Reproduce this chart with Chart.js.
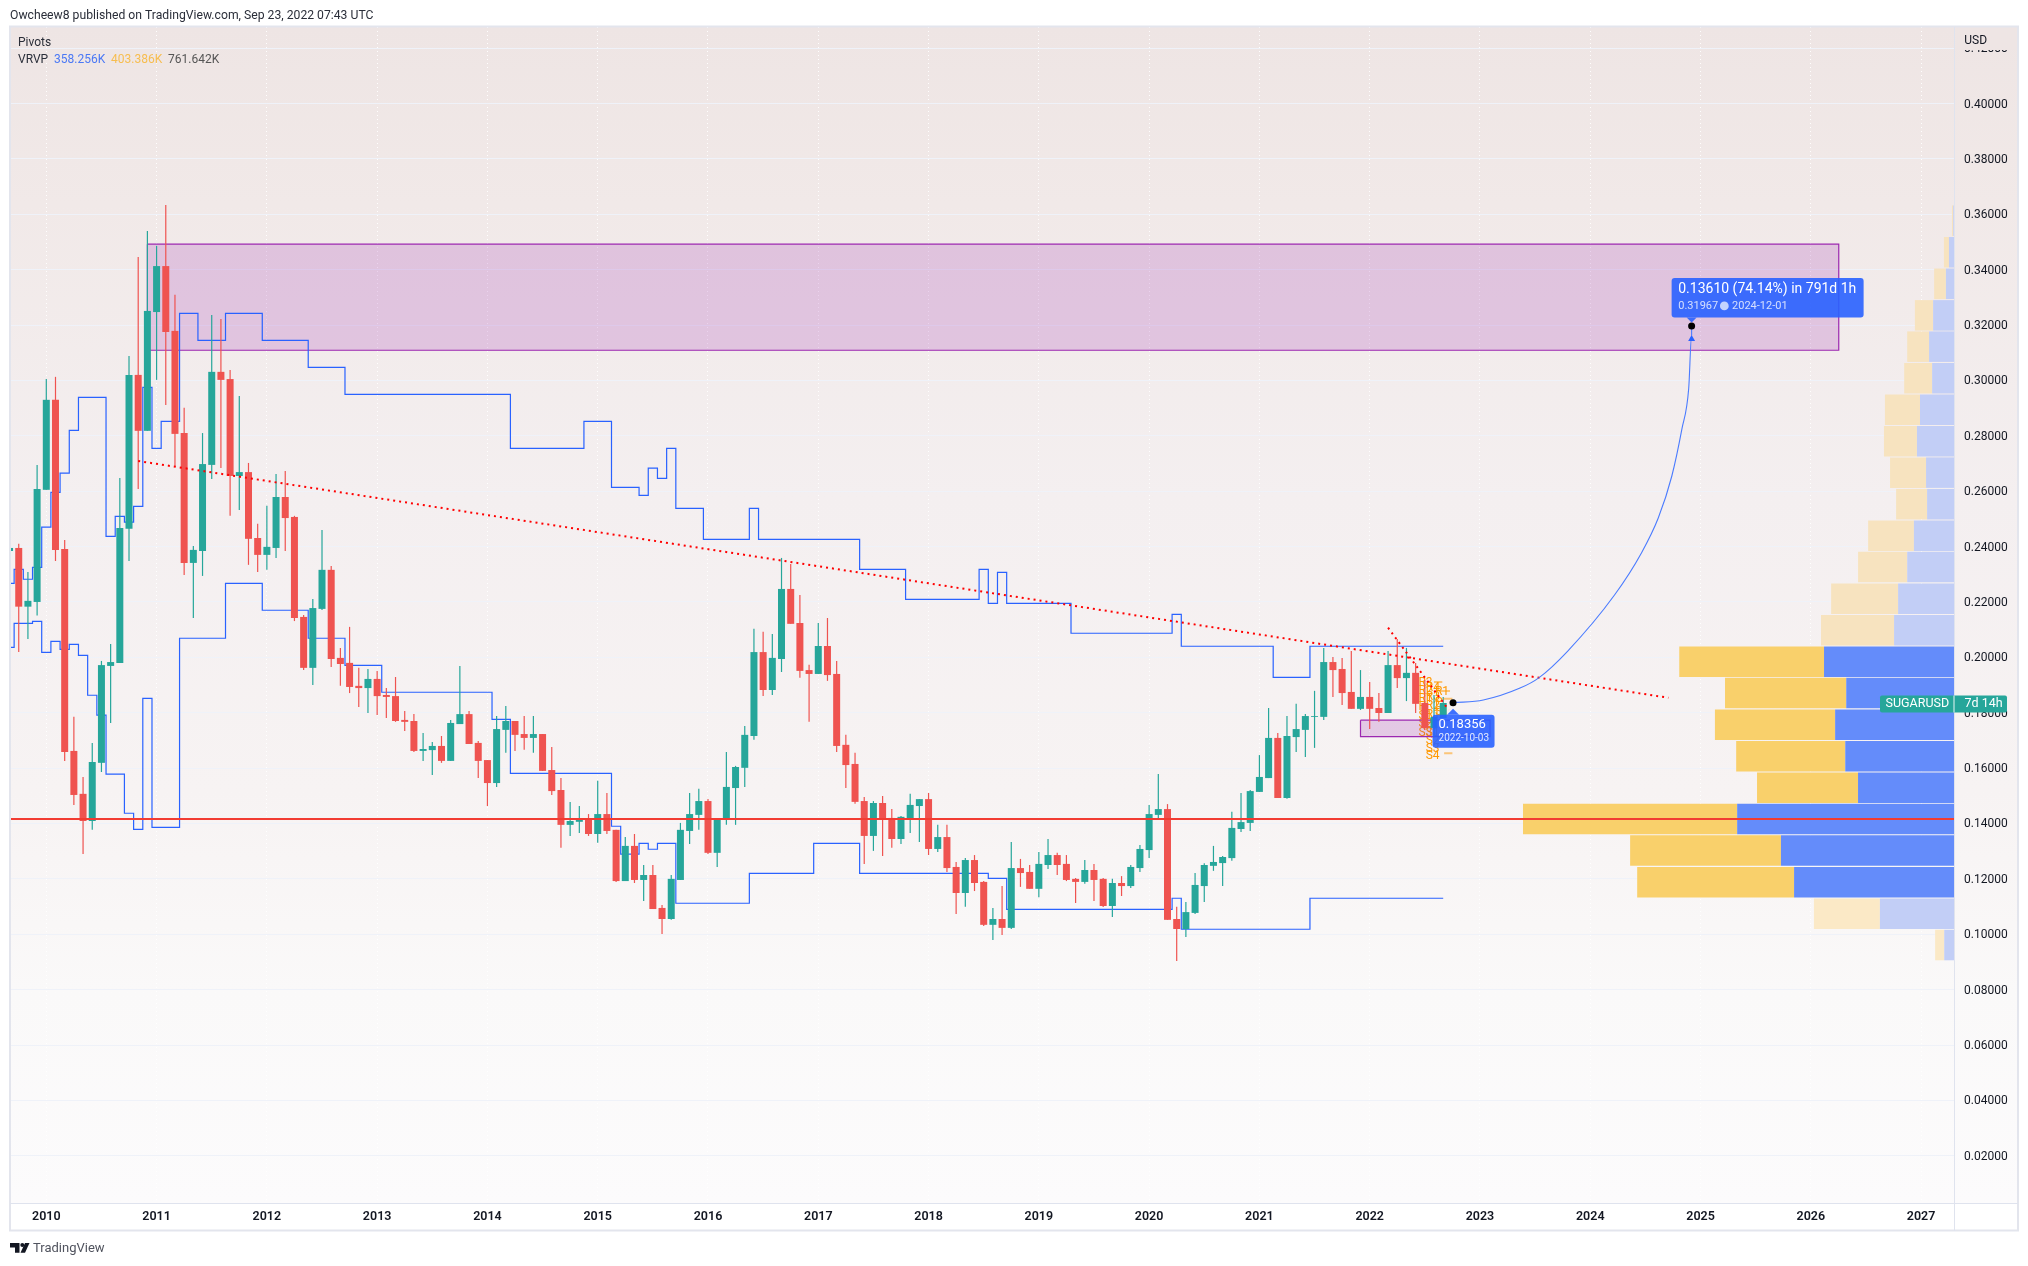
<!DOCTYPE html>
<html><head><meta charset="utf-8"><title>SUGARUSD</title>
<style>html,body{margin:0;padding:0;background:#fff}canvas{display:block}</style>
<script src="https://cdn.jsdelivr.net/npm/chart.js@4"></script></head>
<body><canvas id="c" width="2028" height="1266"></canvas>
<script>
// monthly candles, index 0 = Sep 2009
const opens=[.2384,.2395,.2183,.2200,.2605,.2930,.2391,.1662,.1507,.1409,
.1619,.1969,.1980,.2464,.3020,.2818,.3247,.3413,.3179,.2810,
.2341,.2384,.2695,.3031,.3005,.2655,.2669,.2431,.2370,.2395,
.2579,.2507,.2146,.1962,.2175,.2316,.1998,.1980,.1897,.1889,
.1922,.1864,.1860,.1774,.1770,.1662,.1665,.1680,.1626,.1759,
.1795,.1691,.1629,.1546,.1738,.1770,.1723,.1709,.1723,.1593,
.1521,.1395,.1406,.1416,.1362,.1434,.1377,.1192,.1319,.1196,
.1214,.1095,.1055,.1196,.1373,.1431,.1481,.1294,.1413,.1528,
.1601,.1716,.2019,.1882,.1994,.2247,.2124,.1954,.1940,.2041,
.1940,.1684,.1615,.1481,.1355,.1474,.1420,.1344,.1416,.1463,
.1488,.1308,.1351,.1243,.1149,.1268,.1189,.1034,.1055,.1023,
.1239,.1225,.1164,.1250,.1286,.1254,.1200,.1189,.1232,.1200,
.1102,.1185,.1174,.1239,.1304,.1431,.1452,.1055,.1019,.1077,
.1174,.1247,.1257,.1275,.1380,.1402,.1514,.1564,.1709,.1492,
.1712,.1738,.1785,.1785,.1983,.1958,.1875,.1814,.1857,.1817,
.1799,.1972,.1925,.1944,.1835,.1745,.1781];
const highs=[.2400,.2410,.2308,.2695,.3005,.3013,.2424,.1785,.1568,.1691,
.1987,.2048,.2648,.3088,.3446,.3540,.3486,.3634,.3309,.2901,
.2402,.2810,.3236,.3222,.3038,.2944,.2702,.2482,.2547,.2662,
.2673,.2511,.2153,.2211,.2460,.2330,.2034,.2110,.1962,.1958,
.1951,.1889,.1929,.1806,.1795,.1727,.1694,.1716,.1774,.1969,
.1806,.1698,.1629,.1788,.1824,.1770,.1788,.1788,.1723,.1676,
.1564,.1478,.1463,.1434,.1554,.1510,.1377,.1351,.1362,.1250,
.1250,.1106,.1214,.1402,.1510,.1525,.1488,.1416,.1658,.1608,
.1752,.2103,.2092,.2084,.2359,.2337,.2225,.1973,.2124,.2142,
.1987,.1720,.1655,.1496,.1481,.1499,.1452,.1427,.1507,.1488,
.1510,.1395,.1395,.1261,.1275,.1286,.1192,.1095,.1174,.1333,
.1272,.1250,.1297,.1344,.1294,.1286,.1203,.1268,.1254,.1203,
.1200,.1210,.1250,.1322,.1467,.1579,.1470,.1099,.1116,.1221,
.1256,.1319,.1283,.1442,.1510,.1521,.1647,.1817,.1727,.1788,
.1832,.1795,.1879,.2034,.2001,.1998,.2023,.1954,.1911,.1871,
.2023,.2066,.2034,.1980,.1918,.1864,.1857];
const lows=[.2378,.2019,.2066,.2151,.2605,.2348,.1626,.1467,.1290,.1377,
.1586,.1763,.1980,.2348,.2608,.2818,.3002,.2911,.2688,.2297,
.2142,.2294,.2644,.2684,.2511,.2532,.2334,.2308,.2316,.2359,
.2384,.2131,.1954,.1900,.2171,.1965,.1897,.1871,.1821,.1799,
.1792,.1781,.1767,.1734,.1658,.1626,.1575,.1619,.1626,.1759,
.1687,.1564,.1463,.1532,.1655,.1662,.1666,.1655,.1590,.1503,
.1312,.1355,.1366,.1355,.1330,.1362,.1189,.1192,.1185,.1120,
.1091,.1001,.1052,.1196,.1326,.1377,.1290,.1243,.1395,.1395,
.1532,.1702,.1860,.1864,.1947,.2121,.1926,.1767,.1940,.1915,
.1658,.1528,.1471,.1254,.1301,.1283,.1312,.1326,.1366,.1333,
.1286,.1297,.1225,.1073,.1099,.1156,.1030,.0979,.0997,.1019,
.1171,.1164,.1134,.1236,.1214,.1192,.1113,.1182,.1120,.1098,
.1062,.1138,.1167,.1225,.1275,.1420,.1052,.0903,.0990,.1073,
.1116,.1229,.1174,.1265,.1369,.1373,.1514,.1564,.1492,.1489,
.1658,.1640,.1673,.1774,.1857,.1828,.1814,.1810,.1741,.1767,
.1799,.1889,.1842,.1799,.1738,.1712,.1781];
const closes=[.2395,.2183,.2204,.2608,.2930,.2388,.1658,.1503,.1409,.1622,
.1972,.1983,.2467,.3020,.2818,.3251,.3413,.3175,.2807,.2341,
.2388,.2698,.3031,.3002,.2655,.2669,.2428,.2370,.2399,.2579,
.2503,.2142,.1962,.2178,.2316,.1994,.1976,.1893,.1889,.1922,
.1860,.1857,.1770,.1767,.1662,.1669,.1680,.1626,.1763,.1795,
.1687,.1626,.1546,.1741,.1770,.1720,.1709,.1723,.1590,.1517,
.1395,.1409,.1413,.1362,.1434,.1373,.1192,.1319,.1196,.1214,
.1091,.1055,.1200,.1377,.1434,.1481,.1294,.1416,.1532,.1604,
.1720,.2019,.1882,.1998,.2247,.2121,.1951,.1940,.2041,.1936,
.1680,.1611,.1478,.1355,.1474,.1416,.1344,.1424,.1467,.1488,
.1308,.1351,.1239,.1149,.1268,.1185,.1034,.1055,.1023,.1239,
.1221,.1164,.1254,.1286,.1250,.1196,.1189,.1232,.1196,.1102,
.1185,.1174,.1243,.1308,.1434,.1452,.1052,.1019,.1080,.1178,
.1250,.1261,.1279,.1384,.1405,.1517,.1568,.1709,.1492,.1716,
.1741,.1788,.1788,.1983,.1954,.1871,.1814,.1857,.1814,.1799,
.1972,.1925,.1944,.1832,.1745,.1785,.1835];
const yearLabels=[2010,2011,2012,2013,2014,2015,2016,2017,2018,2019,2020,2021,2022,2023,2024,2025,2026,2027];
const yearCandleIndex=[4,16,28,40,52,64,76,88,100,112,124,136,148,160,172,184,196,208];
const priceTicks=[.02,.04,.06,.08,.10,.12,.14,.16,.18,.20,.22,.24,.26,.28,.30,.32,.34,.36,.38,.40,.42];
// pivot step lines
const upperX=[-.5,.5,1.5,2.5,3.5,4.5,5.5,6.5,7.5,10.5,11.5,12.5,13.5,14.5,15.5,16.5,18.5,20.5,23.5,27.5,32.5,36.5,54.5,62.5,65.5,68.5,69.5,70.5,71.5,72.5,75.5,80.5,81.5,92.5,97.5,105.5,106.5,107.5,108.5,115.5,126.5,127.5,137.5,141.5,156];
const upperY=[.2267,.2318,.2282,.2325,.2470,.2596,.2665,.2820,.2939,.2437,.2509,.2488,.2545,.2975,.2755,.2852,.3242,.3145,.3242,.3145,.3047,.2950,.2755,.2852,.2614,.2585,.2683,.2646,.2755,.2538,.2426,.2538,.2426,.2318,.2209,.2318,.2195,.2307,.2195,.2087,.2155,.2040,.1928,.2040,.2040];
const lowerX=[-.5,.5,2.5,3.5,4.5,5.5,6.5,7.5,8.5,9.5,10.5,12.5,13.5,14.5,15.5,18.5,23.5,27.5,32.5,36.5,40.5,52.5,54.5,65.5,66.5,68.5,69.5,70.5,72.5,80.5,87.5,92.5,106.5,108.5,126.5,127.5,141.5,156];
const lowerY=[.2036,.2123,.2130,.2018,.2058,.2029,.2047,.2007,.1863,.1791,.1578,.1437,.1379,.1852,.1386,.2069,.2267,.2170,.2069,.1971,.1874,.1776,.1581,.1390,.1289,.1328,.1307,.1328,.1112,.1220,.1328,.1220,.1202,.1090,.1130,.1018,.1130,.1130];
// drawings
const trendX=[14,180.5], trendY=[.2709,.1854];
const shortTrendX=[150,156.6], shortTrendY=[.2107,.1810];
const hLineX=[.05,211.58], hLineY=[.1416,.1416];
const bigZoneX=[15,199.04], bigZoneY=[.3492,.3109];
const smallZoneX=[147,161.1], smallZoneY=[.1773,.1714];
const curveX=[157.07,160.37,164.36,166.4,169.5,174.64,177.57,179.4,180.87,181.97,182.71,183.03,183.03];
const curveY=[.1836,.1846,.1889,.1926,.2021,.2225,.2377,.2503,.2654,.2824,.2970,.3164,.3190];
const endX=[157.07,183.03], endY=[.18356,.31967];
// volume profile (thousands)
const vpPrice=[.3577,.3463,.3349,.3235,.3122,.3008,.2894,.2780,.2667,.2553,.2439,.2326,.2212,.2098,.1984,.1871,.1757,.1643,.1529,.1416,.1302,.1188,.1074,.0961];
const vpBlue=[.16,1.18,1.89,4.89,5.83,5.12,7.96,8.67,6.54,6.30,9.38,10.95,13.08,14.03,30.42,25.22,27.82,25.45,22.46,50.75,40.50,37.43,17.34,2.29];
const vpYellow=[.32,1.18,2.76,4.26,5.12,6.54,8.20,7.72,8.43,7.25,10.72,11.50,15.68,17.10,33.88,28.37,28.13,25.53,23.64,50.12,35.30,36.72,15.44,2.13];
const vpStrong=[0,0,0,0,0,0,0,0,0,0,0,0,0,0,1,1,1,1,1,1,1,1,0,0];
// pivot level labels
const pivotText=['R3','R2','R1','P','S1','S2','S3','R4','R3','R2','R1','P','S1','S2','S3','S4','R1','P','S1'];
const pivotIdx=[153.3,153.3,153.3,153.3,153.3,153.3,153.3,154.1,154.1,154.1,154.1,154.1,154.1,154.1,154.1,154.1,155.1,155.1,155.1];
const pivotPrice=[.1907,.1878,.1850,.1821,.1788,.1759,.1727,.1889,.1857,.1824,.1792,.1759,.1727,.1698,.1669,.1644,.1875,.1835,.1803];
const pivotDashX=[155,155.9,NaN,155.65,156.74,NaN,156,157,NaN,156.1,157];
const pivotDashY=[.1911,.1911,NaN,.1878,.1878,NaN,.1850,.1850,NaN,.1654,.1654];

const UP='#26a69a',DOWN='#ef5350',BLUE='#2962ff';
const F='Roboto';
const pts=(xs,ys)=>xs.map((x,i)=>({x,y:ys[i]}));
const cols=opens.map((o,i)=>closes[i]>=o?UP:DOWN);
const rectPts=(xs,ys)=>pts([xs[0],xs[1],xs[1],xs[0],xs[0]],[ys[0],ys[0],ys[1],ys[1],ys[0]]);
const lineBase={type:'line',pointRadius:0,borderJoinStyle:'miter',tension:0,fill:false};

function T(ctx,s,x,y,font,color,align){ctx.font=font;ctx.fillStyle=color;ctx.textAlign=align||'left';ctx.textBaseline='middle';ctx.fillText(s,x,y);}
function rr(ctx,x,y,w,h,r){ctx.beginPath();ctx.roundRect(x,y,w,h,r);}

const deco={id:'deco',
 beforeDraw(ch){const {ctx,chartArea:a}=ch;
  const g=ctx.createLinearGradient(0,a.top,0,a.bottom);
  g.addColorStop(0,'#eee5e4');g.addColorStop(.15,'#f1e9e8');g.addColorStop(.4,'#f4eff0');g.addColorStop(.65,'#f7f3f3');g.addColorStop(.82,'#faf9f9');g.addColorStop(1,'#fcfbfc');
  ctx.fillStyle=g;ctx.fillRect(a.left,a.top,2018-a.left,a.bottom-a.top);},
 beforeDatasetsDraw(ch){const {ctx,chartArea:a,scales:{x,y}}=ch;
  ctx.save();ctx.beginPath();ctx.rect(a.left,a.top,a.right-a.left,a.bottom-a.top);ctx.clip();
  pivotText.forEach((s,i)=>T(ctx,s,x.getPixelForValue(pivotIdx[i]),y.getPixelForValue(pivotPrice[i]),'12px '+F,'#ff9800'));
  ctx.restore();},
 afterDatasetsDraw(ch){const {ctx,scales:{x,y}}=ch;
  const bx=x.getPixelForValue(endX[1]),by=y.getPixelForValue(endY[1]);
  ctx.fillStyle='rgba(41,98,255,.9)';
  rr(ctx,bx-20,by-48,192,39.5,3);ctx.fill();
  ctx.beginPath();ctx.moveTo(bx-5,by-8.5);ctx.lineTo(bx+5,by-8.5);ctx.lineTo(bx,by-3.5);ctx.closePath();ctx.fill();
  T(ctx,'0.13610 (74.14%) in 791d 1h',bx-13.4,by-36,'14px '+F,'#fff');
  T(ctx,'0.31967',bx-13.4,by-20,'11px '+F,'rgba(255,255,255,.78)');
  ctx.fillStyle='rgba(255,255,255,.7)';ctx.beginPath();ctx.arc(bx+32.7,by-20,4.4,0,7);ctx.fill();
  T(ctx,'2024-12-01',bx+40.4,by-20,'11px '+F,'rgba(255,255,255,.78)');
  const sx=x.getPixelForValue(endX[0]),sy=y.getPixelForValue(endY[0]);
  ctx.fillStyle='rgba(41,98,255,.9)';
  rr(ctx,sx-20.5,sy+12,62,33,3);ctx.fill();
  ctx.beginPath();ctx.moveTo(sx-6,sy+12);ctx.lineTo(sx+6,sy+12);ctx.lineTo(sx,sy+6);ctx.closePath();ctx.fill();
  T(ctx,'0.18356',sx-14.5,sy+22,'13px '+F,'#fff');
  T(ctx,'2022-10-03',sx-14.5,sy+36,'10px '+F,'rgba(255,255,255,.85)');
 },
 afterDraw(ch){const {ctx,chartArea:a}=ch;
  ctx.save();
  // currency cell hides the label behind it
  ctx.fillStyle='#eee5e4';ctx.fillRect(1956,28,61,22);
  ctx.strokeStyle='#e3e5ed';ctx.lineWidth=2;ctx.strokeRect(10,26.5,2008,1204);
  ctx.lineWidth=1;ctx.strokeStyle='#dfe3ee';
  ctx.beginPath();ctx.moveTo(10,a.bottom+.5);ctx.lineTo(2018,a.bottom+.5);ctx.moveTo(a.right+.5,a.top);ctx.lineTo(a.right+.5,1231);ctx.stroke();
  // last price tag
  ctx.fillStyle=UP;rr(ctx,1880,695.5,127,17,2);ctx.fill();
  ctx.fillStyle='rgba(255,255,255,.9)';ctx.fillRect(1953.5,695.5,1,17);
  T(ctx,'SUGARUSD',1885.5,704,'12.5px '+F,'#fff');
  T(ctx,'7d 14h',1964.5,704,'12.5px '+F,'#fff');
  T(ctx,'USD',1964.3,40.7,'12px '+F,'#131722');
  T(ctx,'Owcheew8 published on TradingView.com, Sep 23, 2022 07:43 UTC',10,15.5,'12.2px '+F,'#2a2e39');
  T(ctx,'Pivots',18,42.5,'12px '+F,'#2a2e39');
  T(ctx,'VRVP',18,59.5,'12px '+F,'#2a2e39');
  T(ctx,'358.256K',54,59.5,'12px '+F,'#4a78f5');
  T(ctx,'403.386K',111,59.5,'12px '+F,'#f7bd4f');
  T(ctx,'761.642K',168,59.5,'12px '+F,'#555');
  // footer mark
  ctx.fillStyle='#131722';
  ctx.beginPath();ctx.moveTo(10,1243);ctx.lineTo(19.5,1243);ctx.lineTo(19.5,1252.7);ctx.lineTo(15,1252.7);ctx.lineTo(15,1247.5);ctx.lineTo(10,1247.5);ctx.closePath();ctx.fill();
  ctx.beginPath();ctx.arc(22.3,1245,2,0,7);ctx.fill();
  ctx.beginPath();ctx.moveTo(25,1243);ctx.lineTo(29.5,1243);ctx.lineTo(25,1252.7);ctx.lineTo(20.5,1252.7);ctx.closePath();ctx.fill();
  T(ctx,'TradingView',33,1248.5,'13px '+F,'#50535e');
  ctx.restore();}
};

new Chart(document.getElementById('c'),{
 data:{datasets:[
  {...lineBase,label:'End points',data:pts(endX,endY),showLine:false,pointRadius:3.5,pointBackgroundColor:'#000',pointBorderWidth:0,order:1},
  {...lineBase,label:'Arrow',data:[{x:curveX[curveX.length-1],y:.3150}],showLine:false,pointStyle:'triangle',pointRadius:4,pointBackgroundColor:BLUE,pointBorderWidth:0,order:2},
  {...lineBase,label:'Projection',data:pts(curveX,curveY),cubicInterpolationMode:'monotone',borderColor:'#4a7bff',borderWidth:1.1,order:3},
  {...lineBase,label:'Level',data:pts(hLineX,hLineY),borderColor:'#f23c32',borderWidth:2,order:5},
  {...lineBase,label:'Trend',data:pts(trendX,trendY),borderColor:'#ff0000',borderWidth:2,borderDash:[2,4],order:6},
  {...lineBase,label:'Short trend',data:pts(shortTrendX,shortTrendY),borderColor:'#ff0000',borderWidth:2,borderDash:[2,4],order:6},
  {...lineBase,label:'Pivot dashes',data:pts(pivotDashX,pivotDashY),borderColor:'rgba(255,152,0,.5)',borderWidth:2,order:7},
  {type:'bar',label:'Bodies',grouped:false,barThickness:7,inflateAmount:0,data:opens.map((o,i)=>({x:i,y:[o,closes[i]]})),backgroundColor:cols,order:10},
  {type:'bar',label:'Wicks',grouped:false,barThickness:1.2,inflateAmount:0,data:lows.map((l,i)=>({x:i,y:[l,highs[i]]})),backgroundColor:cols,order:11},
  {...lineBase,label:'Pivot upper',data:pts(upperX,upperY),stepped:true,borderColor:BLUE,borderWidth:1.2,order:15},
  {...lineBase,label:'Pivot lower',data:pts(lowerX,lowerY),stepped:true,borderColor:BLUE,borderWidth:1.2,order:15},
  {type:'bar',label:'VP up',indexAxis:'y',xAxisID:'xVol',yAxisID:'y',grouped:false,barThickness:30.5,inflateAmount:0,data:vpPrice.map((p,i)=>({y:p,x:[0,vpBlue[i]]})),backgroundColor:vpStrong.map(s=>s?'#648cfa':'#c2cef6'),order:20},
  {type:'bar',label:'VP down',indexAxis:'y',xAxisID:'xVol',yAxisID:'y',grouped:false,barThickness:30.5,inflateAmount:0,data:vpPrice.map((p,i)=>({y:p,x:[vpBlue[i],vpBlue[i]+vpYellow[i]]})),backgroundColor:vpStrong.map((s,i)=>s?'#f9d06b':(i>=22?'#fbe9c6':'#f7e3bf')),order:20},
  {...lineBase,label:'Small zone',data:rectPts(smallZoneX,smallZoneY),fill:'shape',backgroundColor:'rgba(156,39,176,.2)',borderColor:'#9c27b0',borderWidth:1.2,order:25},
  {...lineBase,label:'Big zone',data:rectPts(bigZoneX,bigZoneY),fill:'shape',backgroundColor:'rgba(156,39,176,.2)',borderColor:'#9c27b0',borderWidth:1.2,order:25}
 ]},
 options:{responsive:false,animation:false,devicePixelRatio:1,events:[],
  layout:{padding:{left:10,top:27,right:10,bottom:35}},
  plugins:{legend:{display:false},tooltip:{enabled:false}},
  scales:{
   x:{type:'linear',min:.05,max:211.58,offset:false,
    afterBuildTicks(s){s.ticks=yearCandleIndex.map(v=>({value:v}));},
    afterFit(s){s.height=28;},
    grid:{offset:false,color:'rgba(255,255,255,.95)',drawTicks:false,lineWidth:1},
    border:{display:false,dash:[1,3]},
    ticks:{autoSkip:false,maxRotation:0,padding:6,color:'#131722',font:{family:'Roboto',size:12.5,weight:'600'},
     callback(v){const k=yearCandleIndex.indexOf(v);return k<0?'':String(yearLabels[k]);}}},
   xVol:{type:'linear',display:false,reverse:true,min:0,max:454.97,offset:false,grid:{offset:false}},
   y:{type:'linear',position:'right',min:.00294,max:.42764,offset:false,beginAtZero:false,
    afterBuildTicks(s){s.ticks=priceTicks.map(v=>({value:v}));},
    afterFit(s){s.width=64;},
    grid:{offset:false,color:'#eff2f9',drawTicks:false,lineWidth:1},
    border:{display:false},
    ticks:{padding:10,labelOffset:1,color:'#131722',font:{family:'Roboto',size:12},callback(v){return v.toFixed(5);}}}
  }},
 plugins:[deco]
});
</script></body></html>
